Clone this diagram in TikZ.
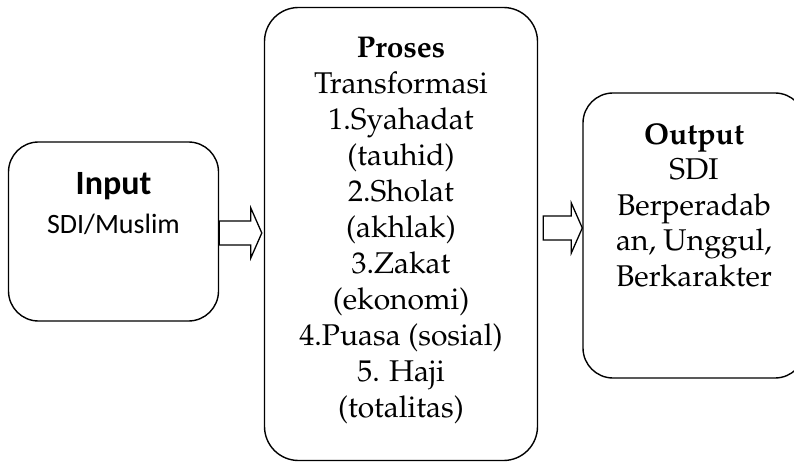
\documentclass[tikz,border=0pt]{standalone}
\usepackage{fontspec}
\newfontfamily\calibri{Carlito}
\usepackage[T1]{fontenc}
\usepackage{palatino}
\usetikzlibrary{calc}

\begin{document}
\begin{tikzpicture}
  [x=1pt,y=-1pt,
   box/.style={draw,line width=1.4pt,rounded corners=30pt,inner sep=0pt},
   boxtext/.style={anchor=north,align=center,inner sep=0pt},
   blockarrow/.style={draw,fill=white,line width=1.3pt,line join=miter}]
  \useasboundingbox (0,0) rectangle (794,462);

  % the three boxes
  \node[box,minimum width=210pt,minimum height=179pt] (inbox) at (113.5,231.5) {};
  \node[box,minimum width=273pt,minimum height=453pt,rounded corners=34pt] (proc) at (401,234) {};
  \node[box,minimum width=222pt,minimum height=285pt] (outbox) at (694,235.5) {};

  \node[boxtext,font=\calibri\fontsize{28}{39}\selectfont] (intext) at (113.5,172.5)
    {{\fontsize{34}{39}\selectfont\bfseries Input}\\SDI/Muslim};
  \node[boxtext,font=\fontsize{30}{36}\selectfont] (proctext) at (401,37)
    {\textbf{Proses}\\Transformasi\\1.Syahadat\\(tauhid)\\2.Sholat\\(akhlak)\\3.Zakat\\(ekonomi)\\4.Puasa (sosial)\\5. Haji\\(totalitas)};
  \node[boxtext,font=\fontsize{30}{35.5}\selectfont] (outtext) at (694,123)
    {\textbf{Output}\\SDI\\Berperadab\\an, Unggul,\\Berkarakter};

  % block arrows between the boxes
  \coordinate (a1s) at (inbox.east |- 0,233);
  \coordinate (a1e) at ([xshift=-2pt]proc.west |- 0,233);
  \coordinate (a2s) at ([xshift=5pt]proc.east |- 0,228);
  \coordinate (a2e) at (outbox.west |- 0,228);

  \foreach \from/\to in {a1s/a1e,a2s/a2e}
    \draw[blockarrow] ($(\from)+(0,-12)$) -- ($(\to)+(-11,-12)$) -- ($(\to)+(-11,-25)$)
      -- (\to) -- ($(\to)+(-11,25)$) -- ($(\to)+(-11,12)$) -- ($(\from)+(0,12)$) -- cycle;

\end{tikzpicture}
\end{document}
